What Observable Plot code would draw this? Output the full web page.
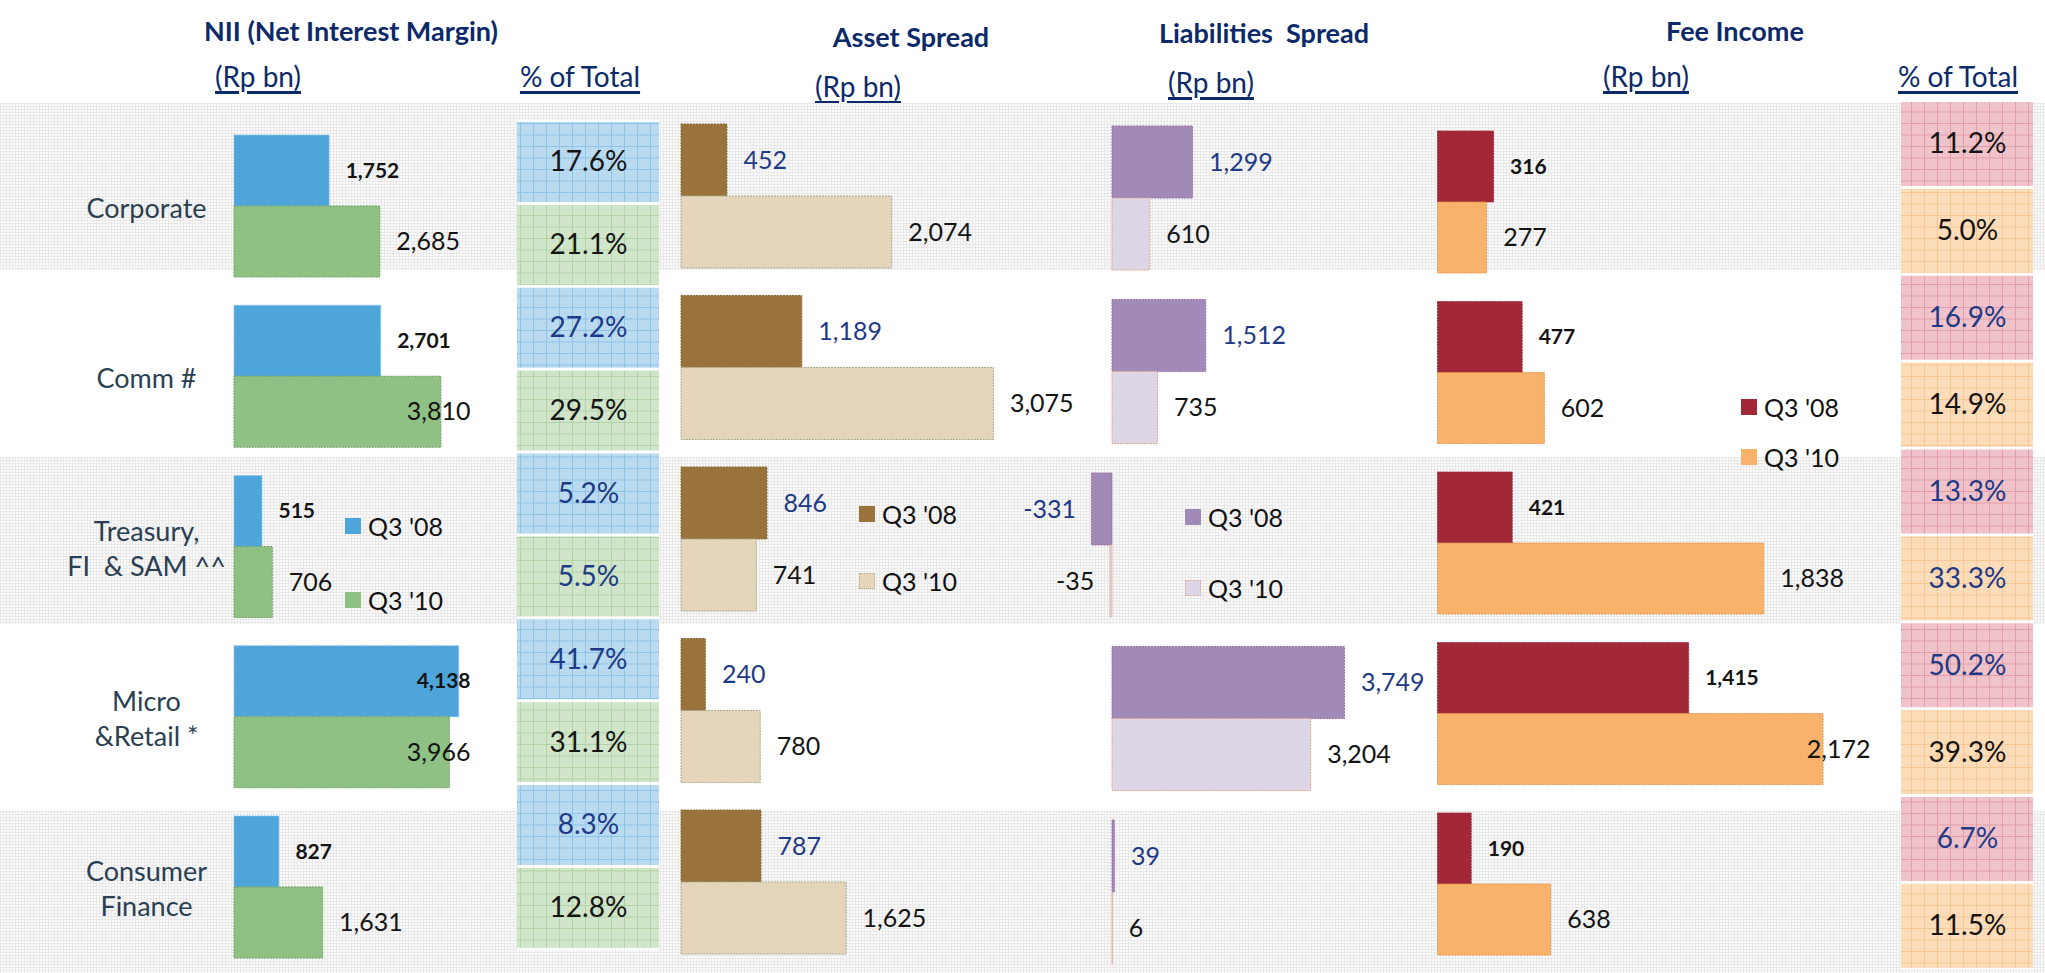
<!DOCTYPE html>
<html>
<head>
<meta charset="utf-8">
<script src="https://cdn.jsdelivr.net/npm/d3@7"></script>
<script src="https://cdn.jsdelivr.net/npm/@observablehq/plot@0.6"></script>
<style>
  body { margin: 0; background: #fff; font-family: Lato, "Open Sans", sans-serif; }
  #wrap { position: relative; width: 2045px; height: 973px; overflow: hidden; }
  #head { position: absolute; left: 0; top: 0; width: 2045px; height: 100px; }
  .h { position: absolute; transform: translate(-50%, -50%); white-space: pre; color: #0c2a6a; line-height: 1; }
  .t { font-weight: bold; font-size: 27px; }
  .u { font-size: 28px; text-decoration: underline; text-decoration-thickness: 3px; text-underline-offset: 4px; }
  #chart { position: absolute; left: 0; top: 100px; width: 2045px; height: 873px; }
  #chart svg { position: absolute; left: 0; top: 0; }
  svg text { white-space: pre; }
  .lg { position: absolute; display: flex; align-items: center; font-size: 25px; color: #111; white-space: pre; transform: translateY(-50%); }
  .lg i { display: inline-block; width: 16px; height: 16px; margin-right: 7px; box-sizing: border-box; }
</style>
</head>
<body>
<svg width="0" height="0" style="position:absolute">
  <defs>
    <pattern id="bandPat" width="3" height="3" patternUnits="userSpaceOnUse">
      <rect width="3" height="3" fill="#fbfbfb"/>
      <rect width="3" height="1" fill="#e9e9e9"/>
      <rect width="1" height="3" fill="#e9e9e9"/>
    </pattern>
    <pattern id="gBlue" width="13" height="11.5" patternUnits="userSpaceOnUse">
      <rect width="13" height="11.5" fill="#badaf0"/>
      <path d="M0 0.5H13M0.5 0V11.5" stroke="#8cc4ea" stroke-width="1"/>
    </pattern>
    <pattern id="gGreen" width="13" height="11.5" patternUnits="userSpaceOnUse">
      <rect width="13" height="11.5" fill="#d0e5ca"/>
      <path d="M0 0.5H13M0.5 0V11.5" stroke="#b0d4a6" stroke-width="1"/>
    </pattern>
    <pattern id="gPink" width="13" height="11.5" patternUnits="userSpaceOnUse">
      <rect width="13" height="11.5" fill="#f0c3ca"/>
      <path d="M0 0.5H13M0.5 0V11.5" stroke="#e39ca8" stroke-width="1"/>
    </pattern>
    <pattern id="gPeach" width="13" height="11.5" patternUnits="userSpaceOnUse">
      <rect width="13" height="11.5" fill="#fcdcb9"/>
      <path d="M0 0.5H13M0.5 0V11.5" stroke="#f7c693" stroke-width="1"/>
    </pattern>
  </defs>
</svg>
<div id="wrap">
  <div id="head"></div>
  <div id="chart"></div>
</div>
<script>
// ---------------- DATA ----------------
const categories = ["Corporate", "Comm #", "Treasury, FI & SAM ^^", "Micro &Retail *", "Consumer Finance"];
const categoryLines = [["Corporate"], ["Comm #"], ["Treasury,", "FI  & SAM ^^"], ["Micro", "&Retail *"], ["Consumer", "Finance"]];
const seriesNames = ["Q3 '08", "Q3 '10"];

const nii08 = [1752, 2701, 515, 4138, 827];
const nii10 = [2685, 3810, 706, 3966, 1631];
const niiPct08 = [17.6, 27.2, 5.2, 41.7, 8.3];
const niiPct10 = [21.1, 29.5, 5.5, 31.1, 12.8];

const asset08 = [452, 1189, 846, 240, 787];
const asset10 = [2074, 3075, 741, 780, 1625];

const liab08 = [1299, 1512, -331, 3749, 39];
const liab10 = [610, 735, -35, 3204, 6];

const fee08 = [316, 477, 421, 1415, 190];
const fee10 = [277, 602, 1838, 2172, 638];
const feePct08 = [11.2, 16.9, 13.3, 50.2, 6.7];
const feePct10 = [5.0, 14.9, 33.3, 39.3, 11.5];

// ---------------- STYLE ----------------
const NAVY = "#1e3a86", DARK = "#141414", CAT = "#2a3f52";
const niiPctInk08 = [DARK, NAVY, NAVY, NAVY, NAVY];
const niiPctInk10 = [DARK, DARK, NAVY, DARK, DARK];
const feePctInk08 = [DARK, NAVY, NAVY, NAVY, NAVY];
const feePctInk10 = [DARK, DARK, NAVY, DARK, DARK];

const W = 2045, H = 873, GAP = 16;
const FONT = "Lato, 'Open Sans', sans-serif";
const fmt = d3.formatLocale({decimal: ".", thousands: ",", grouping: [3], currency: ["", ""], minus: "-"}).format(",");

const ctx = document.createElement("canvas").getContext("2d");
function textWidth(t, size, weight) { ctx.font = `${weight} ${size}px Lato`; return ctx.measureText(t).width; }

function bandScale(domain, top, step, bw) {
  const p = 1 - bw / step;
  return {type: "band", domain, range: [top, top + step * (domain.length - p)], paddingInner: p, paddingOuter: 0, align: 0, round: false, axis: null};
}

const chart = document.getElementById("chart");
function add(svg) { chart.appendChild(svg); }
const baseStyle = {background: "transparent", fontFamily: FONT, overflow: "visible"};

// ---------------- BACKGROUND BANDS ----------------
add(Plot.plot({
  width: W, height: H, margin: 0, style: baseStyle,
  x: {domain: [0, 1], range: [0, W], axis: null},
  y: bandScale(categories, 3, 177, 167),
  marks: [
    Plot.barX(categories.filter((c, i) => i % 2 === 0), {x1: () => 0, x2: () => 1, y: d => d, fill: "url(#bandPat)"})
  ]
}));

// ---------------- BAR PANELS ----------------
function panel(cfg) {
  const {v08, v10, x0, k, dom, top, step, bw} = cfg;
  const range = [x0 + k * dom[0], x0 + k * dom[1]];
  const xs = d3.scaleLinear(dom, range);
  const data = categories.map((cat, i) => ({cat, a: v08[i], b: v10[i]}));
  const labels = [];
  [["a", v08, cfg.l08], ["b", v10, cfg.l10]].forEach(([s, vals, st]) => {
    vals.forEach((v, i) => {
      const text = fmt(v);
      const w = textWidth(text, st.size, st.weight);
      const px = xs(v);
      let lx, anchor;
      if (v < 0) { lx = xs.invert(px - GAP); anchor = "end"; }
      else if (cfg.limit && px + GAP + w > cfg.limit) { lx = xs.invert(cfg.limit); anchor = "end"; }
      else { lx = xs.invert(px + GAP); anchor = "start"; }
      labels.push({cat: categories[i], s, lx, anchor, text});
    });
  });
  const marks = [
    Plot.barX(data, {x: "a", y: "cat", insetBottom: bw / 2, fill: cfg.fill08, stroke: cfg.stroke08, strokeWidth: 1, strokeDasharray: "2,1"}),
    Plot.barX(data, {x: "b", y: "cat", insetTop: bw / 2, fill: cfg.fill10, stroke: cfg.stroke10, strokeWidth: 1, strokeDasharray: "2,1"})
  ];
  for (const [s, st] of [["a", cfg.l08], ["b", cfg.l10]]) {
    for (const anchor of ["start", "end"]) {
      const sub = labels.filter(d => d.s === s && d.anchor === anchor);
      if (!sub.length) continue;
      marks.push(Plot.text(sub, {
        x: "lx", y: "cat", text: "text", textAnchor: anchor,
        dy: s === "a" ? -bw / 4 : bw / 4,
        fill: st.ink, fontSize: st.size, fontWeight: st.weight, fontFamily: FONT
      }));
    }
  }
  if (cfg.extra) marks.push(...cfg.extra);
  add(Plot.plot({
    width: W, height: H, margin: 0, style: baseStyle,
    x: {domain: dom, range, axis: null},
    y: bandScale(categories, top, step, bw),
    marks
  }));
}

const bold = ink => ({size: 21, weight: "bold", ink});
const norm = ink => ({size: 25, weight: "normal", ink});

// NII panel (with category labels)
panel({
  v08: nii08, v10: nii10, x0: 234, k: 0.0543, dom: [0, 4400], top: 35, step: 170.25, bw: 142,
  fill08: "#4ea5da", stroke08: "#86c1e8", fill10: "#8fc184", stroke10: "#6f9f63",
  l08: bold(DARK), l10: norm(DARK), limit: 470,
  extra: [
    Plot.text(categories, {
      y: d => d, text: (d, i) => categoryLines[i].join("\n"),
      frameAnchor: "left", dx: 146, textAnchor: "middle", lineHeight: 1.3,
      fill: CAT, fontSize: 27, fontFamily: FONT
    })
  ]
});

// Asset Spread panel
panel({
  v08: asset08, v10: asset10, x0: 681, k: 0.1016, dom: [0, 3300], top: 24, step: 171.5, bw: 144,
  fill08: "#99733b", stroke08: "#8a6a3a", fill10: "#e5d6bb", stroke10: "#a9a98e",
  l08: norm(NAVY), l10: norm(DARK)
});

// Liabilities Spread panel
panel({
  v08: liab08, v10: liab10, x0: 1112, k: 0.062, dom: [-400, 3900], top: 26, step: 173.5, bw: 144,
  fill08: "#a189b8", stroke08: "#9a6fa2", fill10: "#ddd6e6", stroke10: "#e3a68c",
  l08: norm(NAVY), l10: norm(DARK)
});

// Fee Income panel
panel({
  v08: fee08, v10: fee10, x0: 1437.5, k: 0.1775, dom: [0, 2400], top: 31, step: 170.5, bw: 142,
  fill08: "#a22838", stroke08: "#a22838", fill10: "#f8b26a", stroke10: "#e39650",
  l08: bold(DARK), l10: norm(DARK), limit: 1870
});

// ---------------- % OF TOTAL BOXES ----------------
function pctPlot(cfg) {
  const keys = categories.flatMap(c => [c + "|a", c + "|b"]);
  const cells = categories.flatMap((c, i) => [
    {key: c + "|a", s: "a", v: cfg.v08[i], ink: cfg.ink08[i]},
    {key: c + "|b", s: "b", v: cfg.v10[i], ink: cfg.ink10[i]}
  ]);
  add(Plot.plot({
    width: W, height: H, marginTop: 0, marginBottom: 0, marginLeft: cfg.left, marginRight: W - cfg.right,
    style: baseStyle,
    y: bandScale(keys, cfg.top, cfg.step, cfg.bw),
    color: {type: "identity"},
    marks: [
      Plot.cell(cells, {y: "key", fill: "white", insetTop: -2, insetBottom: -2}),
      Plot.cell(cells.filter(d => d.s === "a"), {y: "key", fill: cfg.pat08}),
      Plot.cell(cells.filter(d => d.s === "b"), {y: "key", fill: cfg.pat10}),
      Plot.text(cells, {y: "key", text: d => d.v.toFixed(1) + "%", fill: "ink", frameAnchor: "middle", fontSize: 28, fontFamily: FONT})
    ]
  }));
}
pctPlot({v08: niiPct08, v10: niiPct10, ink08: niiPctInk08, ink10: niiPctInk10, left: 517, right: 659, top: 22, step: 82.875, bw: 80, pat08: "url(#gBlue)", pat10: "url(#gGreen)"});
pctPlot({v08: feePct08, v10: feePct10, ink08: feePctInk08, ink10: feePctInk10, left: 1901, right: 2033, top: 2, step: 86.875, bw: 84, pat08: "url(#gPink)", pat10: "url(#gPeach)"});

// ---------------- HEADERS ----------------
const headers = [
  {t: "NII (Net Interest Margin)", x: 351, y: 30, c: "t"},
  {t: "(Rp bn)", x: 258, y: 76, c: "u"},
  {t: "% of Total", x: 580, y: 76, c: "u"},
  {t: "Asset Spread", x: 911, y: 36, c: "t"},
  {t: "(Rp bn)", x: 858, y: 86, c: "u"},
  {t: "Liabilities  Spread", x: 1264, y: 32, c: "t"},
  {t: "(Rp bn)", x: 1211, y: 82, c: "u"},
  {t: "Fee Income", x: 1735, y: 30, c: "t"},
  {t: "(Rp bn)", x: 1646, y: 76, c: "u"},
  {t: "% of Total", x: 1958, y: 76, c: "u"}
];
const head = document.getElementById("head");
for (const h of headers) {
  const el = document.createElement("div");
  el.className = "h " + h.c;
  el.textContent = h.t;
  el.style.left = h.x + "px";
  el.style.top = h.y + "px";
  head.appendChild(el);
}

// ---------------- LEGENDS ----------------
const legends = [
  {x: 345, ys: [526, 600], fills: ["#4ea5da", "#8fc184"], borders: ["#4ea5da", "#8fc184"]},
  {x: 859, ys: [514, 581], fills: ["#99733b", "#e5d6bb"], borders: ["#99733b", "#a9a98e"]},
  {x: 1185, ys: [517, 588], fills: ["#a189b8", "#ddd6e6"], borders: ["#a189b8", "#e3a68c"]},
  {x: 1741, ys: [407, 457], fills: ["#a22838", "#f8b26a"], borders: ["#a22838", "#f8b26a"]}
];
const wrap = document.getElementById("wrap");
for (const lg of legends) {
  seriesNames.forEach((name, i) => {
    const el = document.createElement("div");
    el.className = "lg";
    el.style.left = lg.x + "px";
    el.style.top = lg.ys[i] + "px";
    const sw = document.createElement("i");
    sw.style.background = lg.fills[i];
    sw.style.border = `1px dotted ${lg.borders[i]}`;
    el.appendChild(sw);
    el.appendChild(document.createTextNode(name));
    wrap.appendChild(el);
  });
}
</script>
</body>
</html>
